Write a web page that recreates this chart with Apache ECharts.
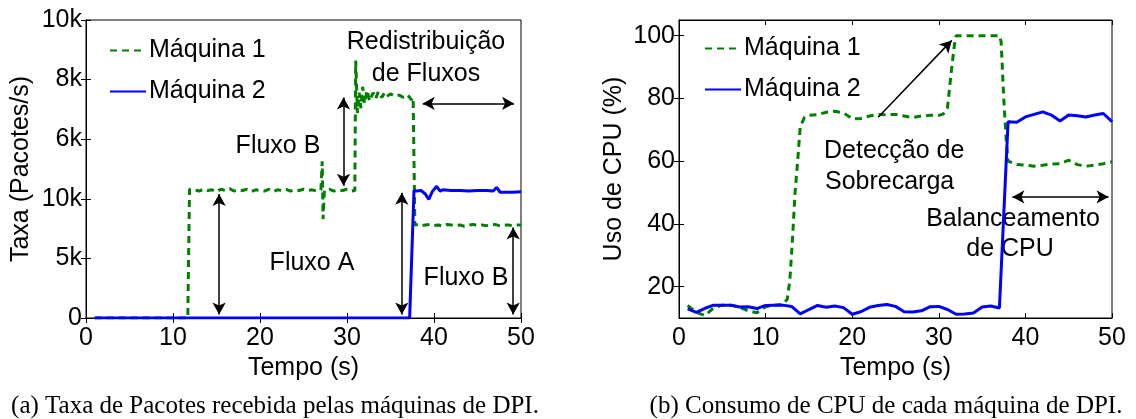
<!DOCTYPE html>
<html lang="pt">
<head>
    <meta charset="UTF-8">
    <title>DPI</title>
    <script src="https://cdn.jsdelivr.net/npm/echarts@6/dist/echarts.min.js"></script>
    <style>
        html, body { margin: 0; padding: 0; background: #fff; }
        #chart { width: 1136px; height: 419px; }
    </style>
</head>
<body>
<div id="chart"></div>
<script>
    // (a) taxa de pacotes - tempo em s, valor em pacotes/s
    var rateTime1 = [1, 11.7, 11.9, 12.5, 13, 13.5, 14, 14.5, 15, 15.5,
        16, 16.5, 17, 17.5, 18, 18.5, 19, 19.5, 20, 20.5,
        21, 21.5, 22, 22.5, 23, 23.5, 24, 24.5, 25, 25.5,
        26, 26.5, 27, 27.15, 27.25, 27.4, 28, 28.5, 29, 29.5,
        30, 30.5, 30.9, 31, 31.2, 31.4, 31.6, 31.8, 32, 32.3,
        32.6, 33, 33.3, 33.6, 34, 34.3, 34.6, 35, 35.5, 36,
        36.5, 37, 37.4, 37.6, 37.8, 38.2, 38.6, 39, 39.5, 40,
        40.5, 41, 41.5, 42, 42.5, 43, 43.5, 44, 44.5, 45,
        45.5, 46, 46.5, 47, 47.5, 48, 48.5, 49, 49.5, 50];
    var rate1 = [0, 0, 10800, 10750, 10650, 10800, 10700, 10750, 10600, 10800,
        10700, 10850, 10650, 10750, 10700, 10800, 10600, 10750, 10700, 10650,
        10800, 10600, 10750, 10700, 10800, 10650, 10750, 10700, 10800, 10700,
        10750, 10650, 10750, 13150, 8300, 10700, 10800, 10650, 10750, 10700,
        10800, 10650, 10700, 21600, 17200, 18900, 17600, 19400, 18000, 19100,
        18200, 18900, 18400, 19000, 18500, 18900, 18600, 18800, 18600, 18700,
        18500, 18700, 18300, 18500, 7800, 7850, 7750, 7800, 7850, 7750,
        7800, 7700, 7850, 7800, 7750, 7800, 7700, 7800, 7850, 7750,
        7800, 7750, 7800, 7850, 7750, 7800, 7800, 7750, 7800, 7800];
    var rateTime2 = [1, 37.2, 37.7, 38, 38.5, 39, 39.4, 39.8, 40.3, 40.7,
        41, 42, 43, 44, 45, 46, 46.8, 47.2, 47.6, 48,
        49, 50];
    var rate2 = [0, 0, 10700, 10650, 10700, 10400, 9950, 10600, 11050, 10650,
        10750, 10700, 10700, 10650, 10700, 10700, 10650, 10950, 10550, 10550,
        10550, 10600];
    // rotulos do eixo y (eixo quebrado no original)
    var rateTickLabels = ['0', '5k', '10k', '6k', '8k', '10k'];

    // (b) uso de CPU (%)
    var cpuTime1 = [1, 2, 3, 4, 5, 6, 7, 8, 9, 10,
        11, 12, 12.5, 12.8, 13.1, 13.4, 13.7, 14, 14.5, 15,
        16, 17, 18, 19, 20, 21, 22, 23, 24, 25,
        26, 27, 28, 29, 30, 30.5, 31, 31.5, 31.8, 32,
        33, 34, 35, 36, 37, 37.2, 37.5, 37.8, 38, 39,
        40, 41, 42, 43, 44, 45, 46, 47, 48, 49,
        50];
    var cpu1 = [14.0, 11.8, 10.8, 13.2, 14.1, 14.1, 13.4, 12.3, 11.7, 13.6,
        14.1, 14.4, 16, 22, 35, 50, 60, 71, 74, 74.6,
        74.8, 75.6, 75.9, 75.4, 73.5, 73.6, 74.4, 74.9, 74.8, 74.9,
        74.4, 73.9, 74.4, 74.6, 74.6, 75, 77, 90, 97, 100,
        100, 100, 100, 100, 100, 98, 80, 66, 60, 58.9,
        58.7, 58.4, 58.7, 59.1, 59.2, 60.3, 58.9, 58.4, 58.7, 59.2,
        59.8];
    var cpuTime2 = [1, 2, 3, 4, 5, 6, 7, 8, 9, 10,
        11, 12, 13, 14, 15, 16, 17, 18, 19, 20,
        21, 22, 23, 24, 25, 26, 27, 28, 29, 30,
        31, 32, 33, 34, 35, 36, 37, 37.2, 38, 39,
        40, 41, 42, 43, 44, 45, 46, 47, 48, 49,
        50];
    var cpu2 = [12.9, 11.8, 13.1, 14.1, 14.1, 14.1, 13.5, 13.6, 13.0, 14.0,
        14.1, 14.1, 13.7, 11.3, 12.7, 14.0, 13.4, 13.8, 13.3, 11.2,
        12.0, 13.4, 14.0, 14.3, 13.7, 12.0, 11.9, 12.3, 13.6, 13.7,
        12.7, 11.2, 11.3, 11.6, 13.5, 13.8, 13.2, 13.0, 72.6, 72.4,
        74.1, 74.9, 75.7, 74.7, 72.8, 74.7, 74.5, 74.1, 74.7, 75.2,
        72.6];
    var cpuTicks = [20, 40, 60, 80, 100];

    var seriesNames = ['Máquina 1', 'Máquina 2'];
    var FONT = 'Liberation Sans';
    var GREEN = '#008000';
    var BLUE = '#0000ff';

    function pairs(xs, ys) {
        var out = [];
        for (var i = 0; i < xs.length; i++) out.push([xs[i], ys[i]]);
        return out;
    }

    var arrowStyle = { color: '#000', width: 1.5, type: 'solid' };
    function arrow(a, b, both) {
        return [{ coord: a, symbol: both ? 'arrow' : 'none' }, { coord: b, symbol: 'arrow' }];
    }

    function xAxes(gridIndex) {
        return [{
            gridIndex: gridIndex, type: 'value', min: 0, max: 50, interval: 10,
            name: 'Tempo (s)', nameLocation: 'middle', nameGap: 26,
            nameTextStyle: { fontFamily: FONT, fontSize: 25, color: '#000' },
            axisLine: { show: true, lineStyle: { color: '#000', width: 1 } },
            axisTick: { inside: true, length: 5, lineStyle: { color: '#000' } },
            axisLabel: { fontFamily: FONT, fontSize: 25, color: '#000', margin: 8 },
            splitLine: { show: false }
        }, {
            gridIndex: gridIndex, type: 'value', min: 0, max: 50, interval: 10, position: 'top',
            axisLine: { show: true, lineStyle: { color: '#000', width: 1 } },
            axisTick: { inside: true, length: 5, lineStyle: { color: '#000' } },
            axisLabel: { show: false },
            splitLine: { show: false }
        }];
    }

    function txt(x, y, s, align, font, size) {
        return {
            type: 'text', x: x, y: y,
            style: { text: s, fontFamily: font || FONT, fontSize: size || 25, fill: '#000', align: align || 'center', verticalAlign: 'middle' }
        };
    }

    var legendBase = {
        data: seriesNames, orient: 'vertical',
        itemWidth: 36, itemHeight: 14, itemGap: 16,
        itemStyle: { color: 'rgba(0,0,0,0)', borderColor: 'rgba(0,0,0,0)', borderWidth: 0 },
        textStyle: { fontFamily: FONT, fontSize: 25, color: '#000', padding: [0, 0, 0, -2] }
    };

    var chart = echarts.init(document.getElementById('chart'), null, { renderer: 'canvas' });
    var option = {
        animation: false,
        backgroundColor: '#fff',
        grid: [
            { left: 86, top: 20, width: 435, height: 298, show: true, borderColor: '#000', borderWidth: 1 },
            { left: 679, top: 20, width: 433, height: 298, show: true, borderColor: '#000', borderWidth: 1 }
        ],
        legend: [
            Object.assign({}, legendBase, { left: 104, top: 33 }),
            Object.assign({}, legendBase, { left: 699, top: 31 })
        ],
        xAxis: xAxes(0).concat(xAxes(1)),
        yAxis: [{
            gridIndex: 0, type: 'value', min: 0, max: 25000, interval: 5000,
            name: 'Taxa (Pacotes/s)', nameLocation: 'middle', nameGap: 52,
            nameTextStyle: { fontFamily: FONT, fontSize: 25, color: '#000' },
            axisLine: { show: true, lineStyle: { color: '#000', width: 1 } },
            axisTick: { inside: true, length: 5, lineStyle: { color: '#000' } },
            axisLabel: {
                fontFamily: FONT, fontSize: 25, color: '#000', margin: 4,
                formatter: function (v) { return rateTickLabels[Math.round(v / 5000)]; }
            },
            splitLine: { show: false }
        }, {
            gridIndex: 0, type: 'value', min: 0, max: 25000, interval: 5000, position: 'right',
            axisLine: { show: true, lineStyle: { color: '#000', width: 1 } },
            axisTick: { inside: true, length: 5, lineStyle: { color: '#000' } },
            axisLabel: { show: false }, splitLine: { show: false }
        }, {
            gridIndex: 1, type: 'value', min: 10, max: 105,
            name: 'Uso de CPU (%)', nameLocation: 'middle', nameGap: 52,
            nameTextStyle: { fontFamily: FONT, fontSize: 25, color: '#000' },
            axisLine: { show: true, lineStyle: { color: '#000', width: 1 } },
            axisTick: { inside: true, length: 5, customValues: cpuTicks, lineStyle: { color: '#000' } },
            axisLabel: { fontFamily: FONT, fontSize: 25, color: '#000', margin: 4, customValues: cpuTicks },
            splitLine: { show: false }
        }, {
            gridIndex: 1, type: 'value', min: 10, max: 105, position: 'right',
            axisLine: { show: true, lineStyle: { color: '#000', width: 1 } },
            axisTick: { inside: true, length: 5, customValues: cpuTicks, lineStyle: { color: '#000' } },
            axisLabel: { show: false, customValues: cpuTicks }, splitLine: { show: false }
        }],
        series: [{
            name: seriesNames[0], type: 'line', xAxisIndex: 0, yAxisIndex: 0,
            data: pairs(rateTime1, rate1), showSymbol: false, symbol: 'none',
            lineStyle: { color: GREEN, width: 3, type: [7, 5] }, itemStyle: { color: GREEN },
            markLine: {
                silent: true, symbolSize: [10, 12], lineStyle: arrowStyle, label: { show: false },
                data: [
                    arrow([15.3, 300], [15.3, 10400], true),
                    arrow([36.3, 300], [36.3, 10500], true),
                    arrow([49.1, 300], [49.1, 7600], true),
                    arrow([29.6, 11100], [29.6, 18500], true),
                    arrow([38.7, 18000], [49.2, 18000], true)
                ]
            }
        }, {
            name: seriesNames[1], type: 'line', xAxisIndex: 0, yAxisIndex: 0,
            data: pairs(rateTime2, rate2), showSymbol: false, symbol: 'none',
            lineStyle: { color: BLUE, width: 3 }, itemStyle: { color: BLUE }
        }, {
            name: seriesNames[0], type: 'line', xAxisIndex: 2, yAxisIndex: 2,
            data: pairs(cpuTime1, cpu1), showSymbol: false, symbol: 'none',
            lineStyle: { color: GREEN, width: 3, type: [7, 5] }, itemStyle: { color: GREEN },
            markLine: {
                silent: true, symbolSize: [10, 12], lineStyle: arrowStyle, label: { show: false },
                data: [
                    arrow([23, 74], [31.5, 98.5], false),
                    arrow([38.5, 48.6], [49.6, 48.6], true)
                ]
            }
        }, {
            name: seriesNames[1], type: 'line', xAxisIndex: 2, yAxisIndex: 2,
            data: pairs(cpuTime2, cpu2), showSymbol: false, symbol: 'none',
            lineStyle: { color: BLUE, width: 3 }, itemStyle: { color: BLUE }
        }],
        graphic: [
            txt(426, 42, 'Redistribuição'),
            txt(426, 74, 'de Fluxos'),
            txt(278, 146, 'Fluxo B'),
            txt(312, 263, 'Fluxo A'),
            txt(466, 278, 'Fluxo B'),
            txt(824, 151, 'Detecção de', 'left'),
            txt(825, 182, 'Sobrecarga', 'left'),
            txt(1013, 219, 'Balanceamento'),
            txt(1010, 249, 'de CPU'),
            txt(275, 406, '(a) Taxa de Pacotes recebida pelas máquinas de DPI.', 'center', 'Liberation Serif', 25),
            txt(886, 406, '(b) Consumo de CPU de cada máquina de DPI.', 'center', 'Liberation Serif', 25)
        ]
    };
    chart.setOption(option);
</script>
</body>
</html>
